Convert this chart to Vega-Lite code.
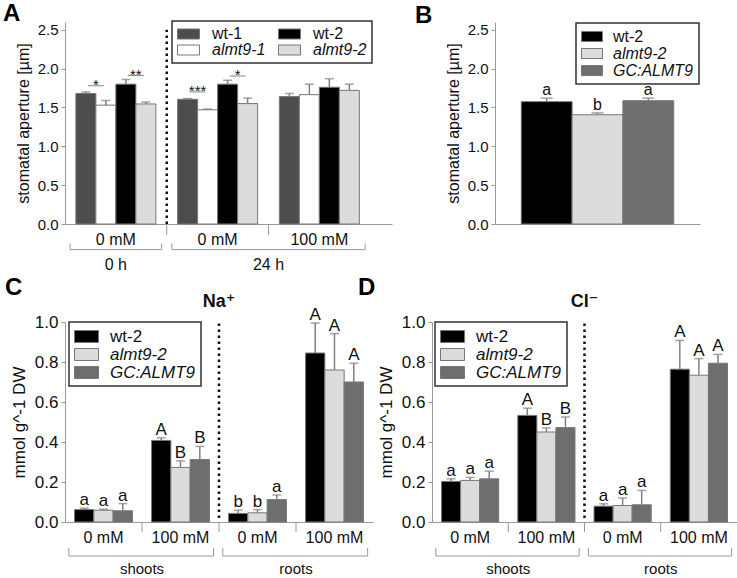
{
  "$schema": "https://vega.github.io/schema/vega-lite/v6.json",
  "background": "white",
  "padding": {"left": 3, "top": 2, "right": 0, "bottom": 0},
  "config": {
    "font": "Liberation Sans",
    "view": {"stroke": null},
    "axis": {"grid": false, "domainColor": "#999999", "tickColor": "#999999", "labelColor": "#111111", "titleColor": "#111111", "titleFontWeight": "normal", "labelFont": "Liberation Sans", "titleFont": "Liberation Sans", "labelOverlap": false},
    "axisY": {"tickSize": 4, "labelPadding": 3, "titlePadding": 6, "labelOverlap": false},
    "axisX": {"ticks": false, "tickSize": 0, "labelPadding": 7, "labelAngle": 0},
    "title": {"font": "Liberation Sans", "fontWeight": "bold", "fontSize": 24, "anchor": "start", "frame": "group", "baseline": "bottom", "offset": 0, "color": "#000000"},
    "legend": {"labelFont": "Liberation Sans", "labelColor": "#111111", "strokeColor": "#333333", "fillColor": "#ffffff", "labelLimit": 200, "symbolStrokeColor": "#777777", "symbolStrokeWidth": 1, "symbolOpacity": 1, "padding": 6, "rowPadding": 0, "columnPadding": 10},
    "text": {"font": "Liberation Sans", "color": "#111111"}
  },
  "datasets": {
    "A": [
      {"grp": "0h|0 mM", "geno": "wt-1", "mean": 1.68, "upper": 1.70},
      {"grp": "0h|0 mM", "geno": "almt9-1", "mean": 1.53, "upper": 1.59},
      {"grp": "0h|0 mM", "geno": "wt-2", "mean": 1.80, "upper": 1.86},
      {"grp": "0h|0 mM", "geno": "almt9-2", "mean": 1.545, "upper": 1.57},
      {"grp": "24h|0 mM", "geno": "wt-1", "mean": 1.605, "upper": 1.615},
      {"grp": "24h|0 mM", "geno": "almt9-1", "mean": 1.47, "upper": 1.48},
      {"grp": "24h|0 mM", "geno": "wt-2", "mean": 1.80, "upper": 1.85},
      {"grp": "24h|0 mM", "geno": "almt9-2", "mean": 1.55, "upper": 1.62},
      {"grp": "24h|100 mM", "geno": "wt-1", "mean": 1.64, "upper": 1.68},
      {"grp": "24h|100 mM", "geno": "almt9-1", "mean": 1.665, "upper": 1.80},
      {"grp": "24h|100 mM", "geno": "wt-2", "mean": 1.76, "upper": 1.87},
      {"grp": "24h|100 mM", "geno": "almt9-2", "mean": 1.72, "upper": 1.80}
    ],
    "Asig": [
      {"grp": "0h|0 mM", "pair": "p1", "y": 1.78, "label": "*"},
      {"grp": "0h|0 mM", "pair": "p2", "y": 1.91, "label": "**"},
      {"grp": "24h|0 mM", "pair": "p1", "y": 1.70, "label": "***"},
      {"grp": "24h|0 mM", "pair": "p2", "y": 1.905, "label": "*"}
    ],
    "Asep": [{"g": "24h|0 mM"}, {"g": "24h|100 mM"}],
    "Adot": [{"g": "24h|0 mM"}],
    "Abr": [
      {"from": "0h|0 mM", "to": "0h|0 mM", "label": "0 h", "at": "0h|0 mM", "pos": "center"},
      {"from": "24h|0 mM", "to": "24h|100 mM", "label": "24 h", "at": "24h|100 mM", "pos": "start"}
    ],
    "B": [
      {"geno": "wt-2", "mean": 1.575, "upper": 1.62, "letter": "a"},
      {"geno": "almt9-2", "mean": 1.406, "upper": 1.43, "letter": "b"},
      {"geno": "GC:ALMT9", "mean": 1.587, "upper": 1.62, "letter": "a"}
    ],
    "C": [
      {"grp": "shoots|0 mM", "geno": "wt-2", "mean": 0.062, "upper": 0.069, "letter": "a"},
      {"grp": "shoots|0 mM", "geno": "almt9-2", "mean": 0.059, "upper": 0.064, "letter": "a"},
      {"grp": "shoots|0 mM", "geno": "GC:ALMT9", "mean": 0.056, "upper": 0.092, "letter": "a"},
      {"grp": "shoots|100 mM", "geno": "wt-2", "mean": 0.408, "upper": 0.421, "letter": "A"},
      {"grp": "shoots|100 mM", "geno": "almt9-2", "mean": 0.273, "upper": 0.306, "letter": "B"},
      {"grp": "shoots|100 mM", "geno": "GC:ALMT9", "mean": 0.312, "upper": 0.378, "letter": "B"},
      {"grp": "roots|0 mM", "geno": "wt-2", "mean": 0.043, "upper": 0.059, "letter": "b"},
      {"grp": "roots|0 mM", "geno": "almt9-2", "mean": 0.046, "upper": 0.062, "letter": "b"},
      {"grp": "roots|0 mM", "geno": "GC:ALMT9", "mean": 0.112, "upper": 0.135, "letter": "a"},
      {"grp": "roots|100 mM", "geno": "wt-2", "mean": 0.845, "upper": 0.995, "letter": "A"},
      {"grp": "roots|100 mM", "geno": "almt9-2", "mean": 0.76, "upper": 0.942, "letter": "A"},
      {"grp": "roots|100 mM", "geno": "GC:ALMT9", "mean": 0.70, "upper": 0.794, "letter": "A"}
    ],
    "D": [
      {"grp": "shoots|0 mM", "geno": "wt-2", "mean": 0.203, "upper": 0.216, "letter": "a"},
      {"grp": "shoots|0 mM", "geno": "almt9-2", "mean": 0.208, "upper": 0.223, "letter": "a"},
      {"grp": "shoots|0 mM", "geno": "GC:ALMT9", "mean": 0.216, "upper": 0.254, "letter": "a"},
      {"grp": "shoots|100 mM", "geno": "wt-2", "mean": 0.533, "upper": 0.569, "letter": "A"},
      {"grp": "shoots|100 mM", "geno": "almt9-2", "mean": 0.45, "upper": 0.47, "letter": "B"},
      {"grp": "shoots|100 mM", "geno": "GC:ALMT9", "mean": 0.472, "upper": 0.525, "letter": "B"},
      {"grp": "roots|0 mM", "geno": "wt-2", "mean": 0.079, "upper": 0.091, "letter": "a"},
      {"grp": "roots|0 mM", "geno": "almt9-2", "mean": 0.0825, "upper": 0.12, "letter": "a"},
      {"grp": "roots|0 mM", "geno": "GC:ALMT9", "mean": 0.086, "upper": 0.158, "letter": "a"},
      {"grp": "roots|100 mM", "geno": "wt-2", "mean": 0.764, "upper": 0.908, "letter": "A"},
      {"grp": "roots|100 mM", "geno": "almt9-2", "mean": 0.734, "upper": 0.817, "letter": "A"},
      {"grp": "roots|100 mM", "geno": "GC:ALMT9", "mean": 0.794, "upper": 0.838, "letter": "A"}
    ],
    "CDsep": [{"g": "shoots|100 mM"}, {"g": "roots|0 mM"}, {"g": "roots|100 mM"}],
    "CDdot": [{"g": "roots|0 mM"}],
    "CDbr": [
      {"from": "shoots|0 mM", "to": "shoots|100 mM", "label": "shoots", "at": "shoots|100 mM"},
      {"from": "roots|0 mM", "to": "roots|100 mM", "label": "roots", "at": "roots|100 mM"}
    ],
    "Ctitle": [{"label": "Na⁺", "g": "roots|0 mM"}],
    "Dtitle": [{"label": "Cl⁻", "g": "roots|0 mM"}]
  },
  "bounds": "flush",
  "spacing": 300,
  "resolve": {"scale": {"x": "independent", "y": "independent", "color": "independent", "xOffset": "independent"}, "legend": {"color": "independent"}},
  "vconcat": [
    {
      "bounds": "flush",
      "spacing": 103,
      "resolve": {"scale": {"x": "independent", "y": "independent", "color": "independent", "xOffset": "independent"}, "legend": {"color": "independent"}},
      "hconcat": [
        {
          "width": 327, "height": 202,
          "title": {"text": "A", "dx": -62, "dy": 10},
          "resolve": {"scale": {"xOffset": "independent"}},
          "layer": [
            {
              "data": {"name": "A"},
              "layer": [
                {
                  "mark": {"type": "bar", "stroke": "#777777", "strokeWidth": 1},
                  "encoding": {
                    "x": {"field": "grp", "type": "nominal", "scale": {"domain": ["0h|0 mM", "24h|0 mM", "24h|100 mM"], "paddingInner": 0, "paddingOuter": 0.107, "align": 0}, "axis": {"title": null, "labelExpr": "split(datum.label, '|')[1]", "labelFontSize": 16}},
                    "xOffset": {"field": "geno", "type": "nominal", "scale": {"domain": ["wt-1", "almt9-1", "wt-2", "almt9-2"], "paddingInner": 0, "paddingOuter": 0.5435}},
                    "y": {"field": "mean", "type": "quantitative", "scale": {"domain": [0, 2.5]}, "axis": {"title": "stomatal aperture [µm]", "values": [0, 0.5, 1, 1.5, 2, 2.5], "format": ".1f", "labelFontSize": 15, "titleFontSize": 16, "labelOverlap": false}},
                    "color": {"field": "geno", "type": "nominal", "scale": {"domain": ["wt-1", "almt9-1", "wt-2", "almt9-2"], "range": ["#4d4d4d", "#ffffff", "#000000", "#dcdcdc"]},
                      "legend": {"title": null, "orient": "none", "legendX": 107, "legendY": -1, "columns": 2, "symbolType": "M-1,-0.667H1.933V0.667H-1Z", "symbolSize": 225, "labelOffset": 19, "labelFontSize": 16, "padding": 5,
                        "encode": {"labels": {"update": {"fontStyle": {"signal": "datum.label == 'wt-1' || datum.label == 'wt-2' ? 'normal' : 'italic'"}}}, "legend": {"update": {"strokeWidth": {"value": 1.5}}}}}}
                  }
                },
                {
                  "mark": {"type": "rule", "color": "#808080", "strokeWidth": 1.5},
                  "encoding": {"x": {"field": "grp", "type": "nominal"}, "xOffset": {"field": "geno", "type": "nominal"}, "y": {"field": "mean", "type": "quantitative"}, "y2": {"field": "upper"}}
                },
                {
                  "mark": {"type": "tick", "color": "#808080", "thickness": 1.5, "size": 9, "orient": "horizontal"},
                  "encoding": {"x": {"field": "grp", "type": "nominal"}, "xOffset": {"field": "geno", "type": "nominal"}, "y": {"field": "upper", "type": "quantitative"}}
                }
              ]
            },
            {
              "data": {"name": "Asig"},
              "layer": [
                {
                  "mark": {"type": "tick", "color": "#555555", "thickness": 1, "size": 16, "orient": "horizontal"},
                  "encoding": {"x": {"field": "grp", "type": "nominal"}, "xOffset": {"field": "pair", "type": "nominal", "scale": {"domain": ["p1", "p2"], "paddingInner": 0, "paddingOuter": 0.272}}, "y": {"field": "y", "type": "quantitative"}}
                },
                {
                  "mark": {"type": "text", "fontSize": 15, "baseline": "alphabetic", "dy": 4},
                  "encoding": {"x": {"field": "grp", "type": "nominal"}, "xOffset": {"field": "pair", "type": "nominal"}, "y": {"field": "y", "type": "quantitative"}, "text": {"field": "label"}}
                }
              ]
            },
            {
              "data": {"name": "Asep"},
              "mark": {"type": "rule", "color": "#999999", "strokeWidth": 1},
              "encoding": {"x": {"field": "g", "type": "nominal", "bandPosition": 0}, "y": {"datum": 0}, "y2": {"datum": -0.14}}
            },
            {
              "data": {"name": "Adot"},
              "mark": {"type": "rule", "color": "#111111", "strokeWidth": 2.5, "strokeDash": [2.5, 3.5]},
              "encoding": {"x": {"field": "g", "type": "nominal", "bandPosition": 0}, "y": {"datum": 0}, "y2": {"datum": 2.5}}
            },
            {
              "data": {"name": "Abr"},
              "layer": [
                {"mark": {"type": "rule", "color": "#999999", "strokeWidth": 1}, "encoding": {"x": {"field": "from", "type": "nominal", "bandPosition": 0.05}, "x2": {"field": "to", "bandPosition": 0.95}, "y": {"datum": -0.33}}},
                {"mark": {"type": "rule", "color": "#999999", "strokeWidth": 1}, "encoding": {"x": {"field": "from", "type": "nominal", "bandPosition": 0.05}, "y": {"datum": -0.25}, "y2": {"datum": -0.33}}},
                {"mark": {"type": "rule", "color": "#999999", "strokeWidth": 1}, "encoding": {"x": {"field": "to", "type": "nominal", "bandPosition": 0.95}, "y": {"datum": -0.25}, "y2": {"datum": -0.33}}},
                {"transform": [{"filter": "datum.pos == 'center'"}], "mark": {"type": "text", "fontSize": 16, "baseline": "middle"}, "encoding": {"x": {"field": "at", "type": "nominal", "bandPosition": 0.5}, "y": {"datum": -0.525}, "text": {"field": "label"}}},
                {"transform": [{"filter": "datum.pos == 'start'"}], "mark": {"type": "text", "fontSize": 16, "baseline": "middle"}, "encoding": {"x": {"field": "at", "type": "nominal", "bandPosition": 0}, "y": {"datum": -0.525}, "text": {"field": "label"}}}
              ]
            }
          ]
        },
        {
          "width": 205, "height": 202,
          "title": {"text": "B", "dx": -80, "dy": 10},
          "data": {"name": "B"},
          "layer": [
            {
              "mark": {"type": "bar", "stroke": "#777777", "strokeWidth": 1},
              "encoding": {
                "x": {"field": "geno", "type": "nominal", "scale": {"domain": ["wt-2", "almt9-2", "GC:ALMT9"], "paddingInner": 0, "paddingOuter": 0.517}, "axis": {"title": null, "labels": false, "ticks": false}},
                "y": {"field": "mean", "type": "quantitative", "scale": {"domain": [0, 2.5]}, "axis": {"title": "stomatal aperture [µm]", "values": [0, 0.5, 1, 1.5, 2, 2.5], "format": ".1f", "labelFontSize": 15, "titleFontSize": 16, "labelOverlap": false}},
                "color": {"field": "geno", "type": "nominal", "scale": {"domain": ["wt-2", "almt9-2", "GC:ALMT9"], "range": ["#000000", "#dcdcdc", "#6e6e6e"]},
                  "legend": {"title": null, "orient": "none", "legendX": 81, "legendY": 1, "symbolType": "M-1,-0.625H1.625V0.625H-1Z", "symbolSize": 256, "labelOffset": 15, "labelFontSize": 16, "padding": 5,
                    "encode": {"labels": {"update": {"fontStyle": {"signal": "datum.label == 'wt-2' ? 'normal' : 'italic'"}}}, "legend": {"update": {"strokeWidth": {"value": 1.5}}}}}}
              }
            },
            {
              "mark": {"type": "rule", "color": "#808080", "strokeWidth": 1.5},
              "encoding": {"x": {"field": "geno", "type": "nominal"}, "y": {"field": "mean", "type": "quantitative"}, "y2": {"field": "upper"}}
            },
            {
              "mark": {"type": "tick", "color": "#808080", "thickness": 1.5, "size": 12, "orient": "horizontal"},
              "encoding": {"x": {"field": "geno", "type": "nominal"}, "y": {"field": "upper", "type": "quantitative"}}
            },
            {
              "mark": {"type": "text", "fontSize": 16, "baseline": "alphabetic", "dy": -3},
              "encoding": {"x": {"field": "geno", "type": "nominal"}, "y": {"field": "upper", "type": "quantitative"}, "text": {"field": "letter"}}
            }
          ]
        }
      ]
    },
    {
      "bounds": "flush",
      "spacing": 59,
      "resolve": {"scale": {"x": "independent", "y": "independent", "color": "independent", "xOffset": "independent"}, "legend": {"color": "independent"}},
      "hconcat": [
        {
          "width": 308, "height": 200,
          "title": {"text": "C", "dx": -60, "dy": 11},
          "layer": [
            {
              "data": {"name": "C"},
              "layer": [
                {
                  "mark": {"type": "bar", "stroke": "#777777", "strokeWidth": 1},
                  "encoding": {
                    "x": {"field": "grp", "type": "nominal", "scale": {"domain": ["shoots|0 mM", "shoots|100 mM", "roots|0 mM", "roots|100 mM"], "paddingInner": 0, "paddingOuter": 0}, "axis": {"title": null, "labelExpr": "split(datum.label, '|')[1]", "labelFontSize": 16}},
                    "xOffset": {"field": "geno", "type": "nominal", "scale": {"domain": ["wt-2", "almt9-2", "GC:ALMT9"], "paddingInner": 0, "paddingOuter": 0.495}},
                    "y": {"field": "mean", "type": "quantitative", "scale": {"domain": [0, 1]}, "axis": {"title": "mmol g^-1 DW", "values": [0, 0.2, 0.4, 0.6, 0.8, 1], "tickCount": 6, "format": ".1f", "labelFontSize": 17, "titleFontSize": 17, "labelOverlap": false, "labelSeparation": 0}},
                    "color": {"field": "geno", "type": "nominal", "scale": {"domain": ["wt-2", "almt9-2", "GC:ALMT9"], "range": ["#000000", "#dcdcdc", "#6e6e6e"]},
                      "legend": {"title": null, "orient": "none", "legendX": 4, "legendY": 0, "symbolType": "M-1,-0.667H1.667V0.667H-1Z", "symbolSize": 324, "labelOffset": 17, "labelFontSize": 17, "padding": 5,
                        "encode": {"labels": {"update": {"fontStyle": {"signal": "datum.label == 'wt-2' ? 'normal' : 'italic'"}}}, "legend": {"update": {"strokeWidth": {"value": 1.5}}}}}}
                  }
                },
                {
                  "mark": {"type": "rule", "color": "#808080", "strokeWidth": 1.5},
                  "encoding": {"x": {"field": "grp", "type": "nominal"}, "xOffset": {"field": "geno", "type": "nominal"}, "y": {"field": "mean", "type": "quantitative"}, "y2": {"field": "upper"}}
                },
                {
                  "mark": {"type": "tick", "color": "#808080", "thickness": 1.5, "size": 9, "orient": "horizontal"},
                  "encoding": {"x": {"field": "grp", "type": "nominal"}, "xOffset": {"field": "geno", "type": "nominal"}, "y": {"field": "upper", "type": "quantitative"}}
                },
                {
                  "mark": {"type": "text", "fontSize": 17, "baseline": "alphabetic", "dy": -3},
                  "encoding": {"x": {"field": "grp", "type": "nominal"}, "xOffset": {"field": "geno", "type": "nominal"}, "y": {"field": "upper", "type": "quantitative"}, "text": {"field": "letter"}}
                }
              ]
            },
            {
              "data": {"name": "CDsep"},
              "mark": {"type": "rule", "color": "#999999", "strokeWidth": 1},
              "encoding": {"x": {"field": "g", "type": "nominal", "bandPosition": 0}, "y": {"datum": 0}, "y2": {"datum": -0.05}}
            },
            {
              "data": {"name": "CDdot"},
              "mark": {"type": "rule", "color": "#111111", "strokeWidth": 2.5, "strokeDash": [2.5, 3.5]},
              "encoding": {"x": {"field": "g", "type": "nominal", "bandPosition": 0}, "y": {"datum": 0.02}, "y2": {"datum": 1}}
            },
            {
              "data": {"name": "Ctitle"},
              "mark": {"type": "text", "fontSize": 18, "fontWeight": "bold", "baseline": "middle", "font": "Liberation Sans, DejaVu Sans"},
              "encoding": {"x": {"field": "g", "type": "nominal", "bandPosition": 0}, "y": {"datum": 1.1}, "text": {"field": "label"}}
            },
            {
              "data": {"name": "CDbr"},
              "layer": [
                {"mark": {"type": "rule", "color": "#999999", "strokeWidth": 1}, "encoding": {"x": {"field": "from", "type": "nominal", "bandPosition": 0.05}, "x2": {"field": "to", "bandPosition": 0.93}, "y": {"datum": -0.17}}},
                {"mark": {"type": "rule", "color": "#999999", "strokeWidth": 1}, "encoding": {"x": {"field": "from", "type": "nominal", "bandPosition": 0.05}, "y": {"datum": -0.13}, "y2": {"datum": -0.17}}},
                {"mark": {"type": "rule", "color": "#999999", "strokeWidth": 1}, "encoding": {"x": {"field": "to", "type": "nominal", "bandPosition": 0.93}, "y": {"datum": -0.13}, "y2": {"datum": -0.17}}},
                {"mark": {"type": "text", "fontSize": 15, "baseline": "middle"}, "encoding": {"x": {"field": "at", "type": "nominal", "bandPosition": 0}, "y": {"datum": -0.235}, "text": {"field": "label"}}}
              ]
            }
          ]
        },
        {
          "width": 305, "height": 200,
          "title": {"text": "D", "dx": -74, "dy": 11},
          "layer": [
            {
              "data": {"name": "D"},
              "layer": [
                {
                  "mark": {"type": "bar", "stroke": "#777777", "strokeWidth": 1},
                  "encoding": {
                    "x": {"field": "grp", "type": "nominal", "scale": {"domain": ["shoots|0 mM", "shoots|100 mM", "roots|0 mM", "roots|100 mM"], "paddingInner": 0, "paddingOuter": 0}, "axis": {"title": null, "labelExpr": "split(datum.label, '|')[1]", "labelFontSize": 16}},
                    "xOffset": {"field": "geno", "type": "nominal", "scale": {"domain": ["wt-2", "almt9-2", "GC:ALMT9"], "paddingInner": 0, "paddingOuter": 0.5}},
                    "y": {"field": "mean", "type": "quantitative", "scale": {"domain": [0, 1]}, "axis": {"title": "mmol g^-1 DW", "values": [0, 0.2, 0.4, 0.6, 0.8, 1], "tickCount": 6, "format": ".1f", "labelFontSize": 17, "titleFontSize": 17, "labelOverlap": false, "labelSeparation": 0}},
                    "color": {"field": "geno", "type": "nominal", "scale": {"domain": ["wt-2", "almt9-2", "GC:ALMT9"], "range": ["#000000", "#dcdcdc", "#6e6e6e"]},
                      "legend": {"title": null, "orient": "none", "legendX": 3, "legendY": 0, "symbolType": "M-1,-0.667H1.667V0.667H-1Z", "symbolSize": 324, "labelOffset": 17, "labelFontSize": 17, "padding": 5,
                        "encode": {"labels": {"update": {"fontStyle": {"signal": "datum.label == 'wt-2' ? 'normal' : 'italic'"}}}, "legend": {"update": {"strokeWidth": {"value": 1.5}}}}}}
                  }
                },
                {
                  "mark": {"type": "rule", "color": "#808080", "strokeWidth": 1.5},
                  "encoding": {"x": {"field": "grp", "type": "nominal"}, "xOffset": {"field": "geno", "type": "nominal"}, "y": {"field": "mean", "type": "quantitative"}, "y2": {"field": "upper"}}
                },
                {
                  "mark": {"type": "tick", "color": "#808080", "thickness": 1.5, "size": 9, "orient": "horizontal"},
                  "encoding": {"x": {"field": "grp", "type": "nominal"}, "xOffset": {"field": "geno", "type": "nominal"}, "y": {"field": "upper", "type": "quantitative"}}
                },
                {
                  "mark": {"type": "text", "fontSize": 17, "baseline": "alphabetic", "dy": -3},
                  "encoding": {"x": {"field": "grp", "type": "nominal"}, "xOffset": {"field": "geno", "type": "nominal"}, "y": {"field": "upper", "type": "quantitative"}, "text": {"field": "letter"}}
                }
              ]
            },
            {
              "data": {"name": "CDsep"},
              "mark": {"type": "rule", "color": "#999999", "strokeWidth": 1},
              "encoding": {"x": {"field": "g", "type": "nominal", "bandPosition": 0}, "y": {"datum": 0}, "y2": {"datum": -0.05}}
            },
            {
              "data": {"name": "CDdot"},
              "mark": {"type": "rule", "color": "#111111", "strokeWidth": 2.5, "strokeDash": [2.5, 3.5]},
              "encoding": {"x": {"field": "g", "type": "nominal", "bandPosition": 0}, "y": {"datum": 0.02}, "y2": {"datum": 1}}
            },
            {
              "data": {"name": "Dtitle"},
              "mark": {"type": "text", "fontSize": 18, "fontWeight": "bold", "baseline": "middle", "font": "Liberation Sans, DejaVu Sans"},
              "encoding": {"x": {"field": "g", "type": "nominal", "bandPosition": 0}, "y": {"datum": 1.1}, "text": {"field": "label"}}
            },
            {
              "data": {"name": "CDbr"},
              "layer": [
                {"mark": {"type": "rule", "color": "#999999", "strokeWidth": 1}, "encoding": {"x": {"field": "from", "type": "nominal", "bandPosition": 0.05}, "x2": {"field": "to", "bandPosition": 0.93}, "y": {"datum": -0.17}}},
                {"mark": {"type": "rule", "color": "#999999", "strokeWidth": 1}, "encoding": {"x": {"field": "from", "type": "nominal", "bandPosition": 0.05}, "y": {"datum": -0.13}, "y2": {"datum": -0.17}}},
                {"mark": {"type": "rule", "color": "#999999", "strokeWidth": 1}, "encoding": {"x": {"field": "to", "type": "nominal", "bandPosition": 0.93}, "y": {"datum": -0.13}, "y2": {"datum": -0.17}}},
                {"mark": {"type": "text", "fontSize": 15, "baseline": "middle"}, "encoding": {"x": {"field": "at", "type": "nominal", "bandPosition": 0}, "y": {"datum": -0.235}, "text": {"field": "label"}}}
              ]
            }
          ]
        }
      ]
    }
  ]
}
